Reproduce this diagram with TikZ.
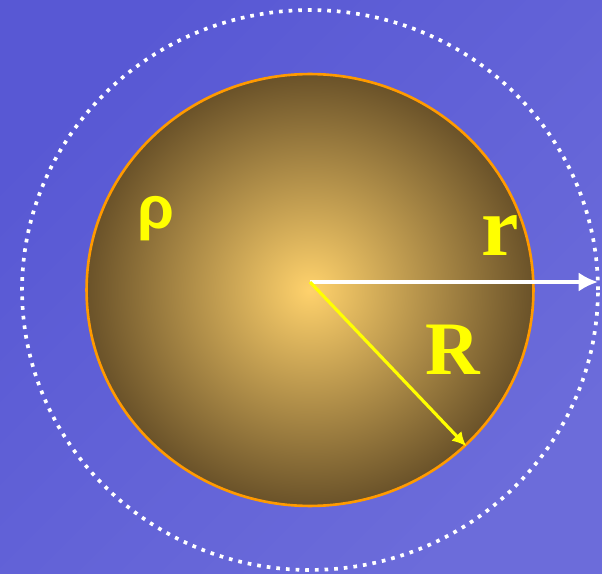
\documentclass[tikz,border=0pt]{standalone}
\usepackage{fontspec}
\setmainfont{Liberation Serif}
\newfontfamily\greekfont{Liberation Sans}
\usepackage{tikz}
\usetikzlibrary{arrows.meta, shapes.geometric}
\definecolor{bgtop}{HTML}{5858D4}
\definecolor{bgbot}{HTML}{6C6CDA}
\definecolor{ballcore}{HTML}{FFD26C}
\definecolor{balledge}{HTML}{6A5229}
\definecolor{rimorange}{HTML}{FF9A00}
\definecolor{labelyellow}{HTML}{FFFF00}
\tikzset{
    ball/.style={
        ellipse, draw=rimorange, line width=1.5pt,
        inner color=ballcore, outer color=balledge,
        minimum width=8.94cm, minimum height=8.64cm
    },
    shell/.style={
        ellipse, draw=white, line width=2.1pt,
        dash pattern=on 2.1pt off 3.4pt,
        minimum width=11.52cm, minimum height=11.2cm
    },
    radiusarrow/.style={
        -{Latex[length=11pt, width=11pt]}, line width=2.3pt, color=white
    },
    ballarrow/.style={
        -{Latex[length=8pt, width=8pt]}, line width=1.8pt, color=labelyellow
    },
    biglabel/.style={
        font=\fontsize{48}{48}\selectfont\bfseries, text=labelyellow, inner sep=0pt
    },
}

\begin{document}
\begin{tikzpicture}[x=0.02cm, y=-0.02cm]

    % Background
    \shade[top color=bgtop, bottom color=bgbot, shading angle=45]
        (0,0) rectangle (602,574);
    \useasboundingbox (0,0) rectangle (602,574);

    % Sphere and outer shell
    \node[shell] (outer) at (310,290) {};
    \node[ball] (sphere) at (310,290) {};

    % Radii
    \coordinate (centre) at (310,282);
    \coordinate (tip) at (598,282);
    \draw[radiusarrow] (centre) -- (tip);
    \draw[ballarrow] (centre) -- (sphere.-45);

    % Labels
    \node[font=\greekfont\fontsize{34}{34}\selectfont\bfseries, text=labelyellow, inner sep=0pt] (rho) at (156,219) {ρ};
    \node[biglabel] (rlab) at (500,236) {r};
    \node[biglabel, font=\fontsize{43}{43}\selectfont\bfseries] (Rlab) at (453,350) {R};

\end{tikzpicture}
\end{document}
